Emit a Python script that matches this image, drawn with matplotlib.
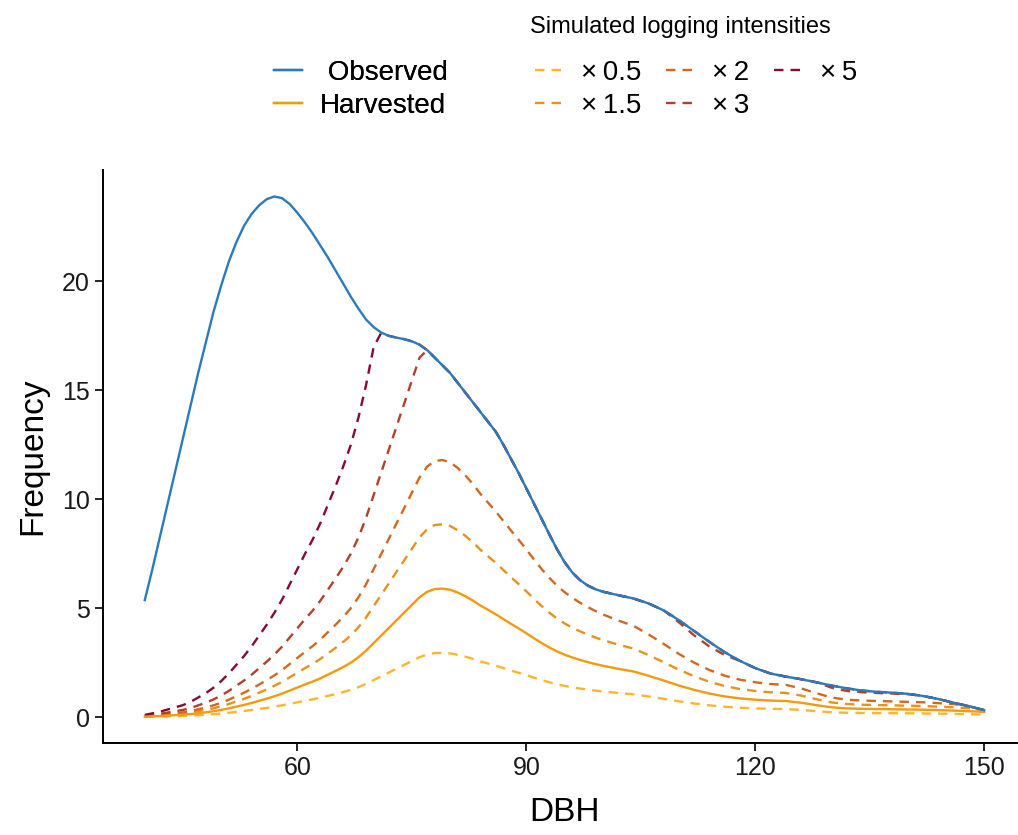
import matplotlib.pyplot as plt
import numpy as np

plt.rcParams['font.family'] = ['Liberation Sans', 'DejaVu Sans']

# DBH grid and curves
dbh = list(range(40, 101)) + list(range(102, 151, 2))
observed = [5.37, 6.8, 8.3, 9.8, 11.3, 12.8, 14.3, 15.8, 17.2, 18.6,
            19.8, 20.9, 21.8, 22.55, 23.1, 23.5, 23.78, 23.9, 23.82, 23.55,
            23.15, 22.7, 22.2, 21.65, 21.1, 20.5, 19.9, 19.3, 18.75, 18.25,
            17.9, 17.65, 17.5, 17.42, 17.35, 17.25, 17.1, 16.85, 16.5, 16.15,
            15.8, 15.35, 14.9, 14.45, 14.0, 13.55, 13.1, 12.5, 11.85, 11.2,
            10.5, 9.8, 9.1, 8.4, 7.72, 7.12, 6.65, 6.3, 6.05, 5.88,
            5.76,
            5.6, 5.45, 5.22, 4.9, 4.45, 3.95, 3.45, 2.98, 2.58, 2.25,
            2.0, 1.86, 1.74, 1.6, 1.45, 1.32, 1.22, 1.16, 1.12, 1.07,
            0.97, 0.83, 0.66, 0.5, 0.32]
harvested = [0.02, 0.035, 0.05, 0.07, 0.09, 0.11, 0.14, 0.18, 0.22, 0.27,
             0.33, 0.4, 0.48, 0.56, 0.65, 0.75, 0.85, 0.96, 1.08, 1.22,
             1.36, 1.5, 1.63, 1.78, 1.95, 2.12, 2.3, 2.5, 2.75, 3.05,
             3.4, 3.75, 4.1, 4.45, 4.8, 5.15, 5.5, 5.75, 5.88, 5.9,
             5.85, 5.72, 5.55, 5.35, 5.12, 4.92, 4.72, 4.5, 4.28, 4.07,
             3.85, 3.62, 3.4, 3.2, 3.02, 2.87, 2.74, 2.63, 2.53, 2.44,
             2.36,
             2.22, 2.1, 1.9, 1.68, 1.45, 1.25, 1.08, 0.95, 0.86, 0.8,
             0.76, 0.74, 0.66, 0.55, 0.45, 0.4, 0.38, 0.37, 0.36, 0.35,
             0.34, 0.32, 0.3, 0.27, 0.24]

intensities = [0.5, 1.5, 2, 3, 5]
int_labels = ['×\u20090.5', '×\u20091.5', '×\u20092', '×\u20093', '×\u20095']
int_colors = ['#FDB52A', '#E8921C', '#D0691F', '#B1412B', '#850C2E']

fig = plt.figure(figsize=(10.18, 8.35), dpi=100)
ax = fig.add_axes([0.101, 0.110, 0.907, 0.686])

x = np.array(dbh)
obs = np.array(observed)
harv = np.array(harvested)

lw = 1.7
sim_handles = []
for k, lab, col in zip(intensities, int_labels, int_colors):
    # simulated harvest can't exceed what was observed
    sim = np.minimum(k * harv, obs)
    h, = ax.plot(x, sim, color=col, lw=lw, dashes=(4, 3), label=lab)
    sim_handles.append(h)

h_harv, = ax.plot(x, harv, color='#F39A0E', lw=lw, label='Harvested')
h_obs, = ax.plot(x, obs, color='#2B7BBA', lw=lw, label=' Observed')

ax.set_xlim(34.5, 155.5)
ax.set_ylim(-1.195, 25.1)
ax.set_xticks([60, 90, 120, 150])
ax.set_yticks([0, 5, 10, 15, 20])
ax.tick_params(labelsize=18, length=6, width=1.2, color='black', labelcolor='#1a1a1a')
for s in ['top', 'right']:
    ax.spines[s].set_visible(False)
for s in ['left', 'bottom']:
    ax.spines[s].set_linewidth(1.4)
ax.set_xlabel('DBH', fontsize=24, labelpad=12)
ax.set_ylabel('Frequency', fontsize=24, labelpad=10)

leg_kw = dict(loc='upper left', frameon=False, fontsize=20, handlelength=1.0,
              handletextpad=0.65, labelspacing=0.25, borderpad=0, borderaxespad=0)
leg1 = fig.legend(handles=[h_obs, h_harv], bbox_to_anchor=(0.269, 0.928), **leg_kw)
fig.legend(handles=sim_handles, bbox_to_anchor=(0.5255, 0.928), ncol=3,
           columnspacing=0.9, **leg_kw)
fig.add_artist(leg1)
fig.text(0.521, 0.968, 'Simulated logging intensities', fontsize=17, va='center', ha='left')

fig.savefig('out.png', dpi=100)
